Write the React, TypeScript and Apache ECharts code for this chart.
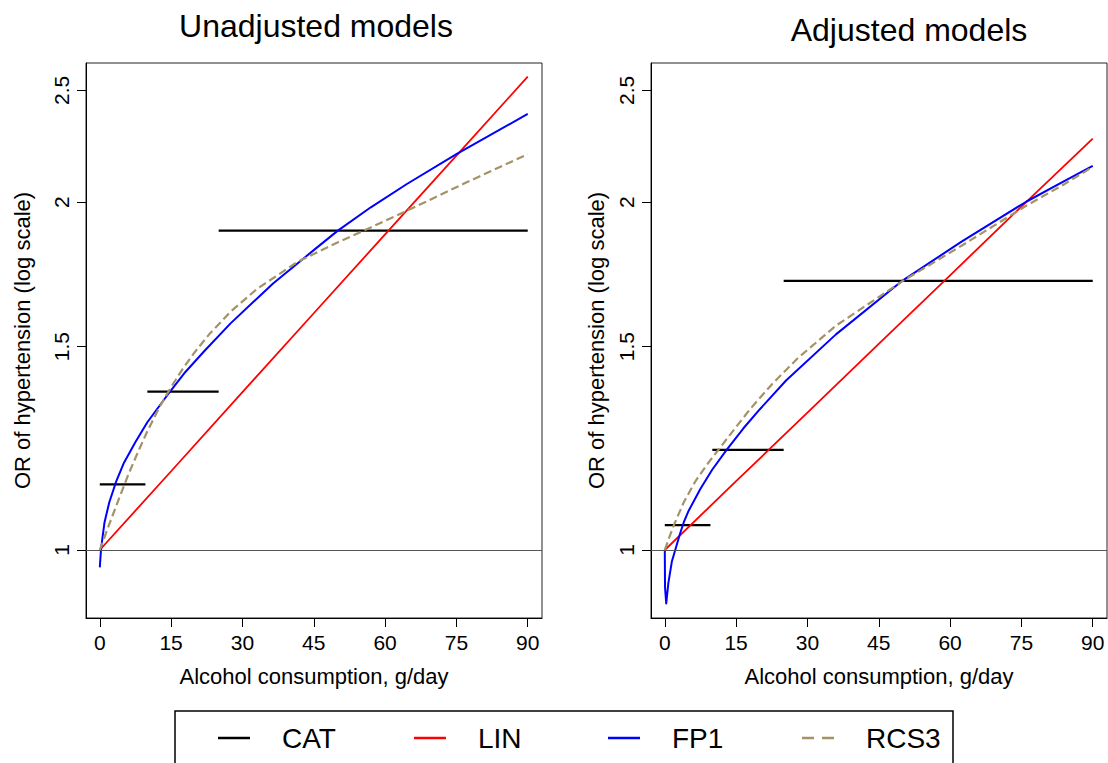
import React, { useEffect, useRef } from "react";
import * as echarts from "echarts";

// ---------- data (odds ratios) ----------
const xTicks = [0, 15, 30, 45, 60, 75, 90];
const yTicks = [1, 1.5, 2, 2.5];

// Categorical model: segment start, end and level
const catStart = [0, 10, 25];
const catEnd = [9.6, 25, 90];
const catUnadj = [1.14, 1.371, 1.89];
const catAdj = [1.051, 1.221, 1.71];

// Linear model
const linX = [0, 15, 30, 45, 60, 75, 90];
const linUnadj = [1, 1.17, 1.37, 1.603, 1.876, 2.195, 2.569];
const linAdj = [1, 1.147, 1.315, 1.508, 1.729, 1.983, 2.27];

// FP1 model
const fp1UnadjX = [0, 0.25, 0.5, 1, 2, 3.5, 5, 7.5, 10, 14, 18, 22, 27.5, 36.5, 45, 50, 57, 64.5, 75, 90];
const fp1Unadj = [0.966, 1.0, 1.02, 1.057, 1.1, 1.148, 1.188, 1.24, 1.29, 1.358, 1.426, 1.487, 1.571, 1.702, 1.818, 1.889, 1.98, 2.073, 2.201, 2.385];
const fp1AdjX = [0, 0.05, 0.3, 0.75, 1.5, 2.35, 3.2, 4, 5, 7.5, 10, 13, 16.5, 20, 25.5, 36, 50, 62.5, 76, 84, 90];
const fp1Adj = [1.0, 0.928, 0.899, 0.936, 0.978, 1.005, 1.033, 1.057, 1.081, 1.13, 1.174, 1.221, 1.274, 1.324, 1.402, 1.537, 1.711, 1.85, 2.002, 2.086, 2.15];

// RCS3 model
const rcsUnadjX = [0, 2, 4, 6, 8, 10, 12.5, 15, 17.5, 20, 23, 27.5, 33, 41.5, 50, 57, 65, 76.5, 90];
const rcsUnadj = [1.0, 1.053, 1.107, 1.162, 1.215, 1.267, 1.328, 1.384, 1.436, 1.484, 1.537, 1.608, 1.682, 1.775, 1.846, 1.902, 1.97, 2.075, 2.201];
const rcsAdjX = [0, 1, 2, 4, 6.5, 9.5, 12, 15, 18, 22.5, 28, 36, 50, 62.5, 76, 84, 90];
const rcsAdj = [1.0, 1.027, 1.053, 1.1, 1.148, 1.195, 1.232, 1.278, 1.325, 1.391, 1.466, 1.564, 1.709, 1.835, 1.986, 2.073, 2.146];

const titles = ["Unadjusted models", "Adjusted models"];
const legendNames = ["CAT", "LIN", "FP1", "RCS3"];
const colors: Record<string, string> = {
  CAT: "#000000",
  LIN: "#ff0000",
  FP1: "#0000ff",
  RCS3: "#a39366",
};

const FONT = "'Liberation Sans', Arial, Helvetica, sans-serif";

const toPts = (xs: number[], ys: number[]) => xs.map((x, i) => [x, Math.log(ys[i])]);
const catPts = (levels: number[]) => {
  const out: any[] = [];
  levels.forEach((v, i) => {
    out.push([catStart[i], Math.log(v)]);
    out.push([catEnd[i], Math.log(v)]);
    if (i < levels.length - 1) out.push([catEnd[i], "-"]);
  });
  return out;
};

export default function App() {
  const ref = useRef<HTMLDivElement>(null);
  useEffect(() => {
    if (!ref.current) return;
    const chart = echarts.init(ref.current, undefined, { renderer: "svg" });
    const yMin = -0.1355;
    const yMax = 0.9707;
    const yVals = yTicks.map((v) => Math.log(v));
    const grids = [
      { left: 86, top: 63, width: 456, height: 555 },
      { left: 651, top: 63, width: 456, height: 555 },
    ];
    const yNameGaps = [53, 44];

    const xAxes = grids.map((_, gi) => ({
      type: "value",
      gridIndex: gi,
      min: -2.9,
      max: 93,
      axisLine: { show: true, onZero: false, lineStyle: { color: "#000", width: 1 } },
      axisTick: { show: true, length: 9, customValues: xTicks, lineStyle: { color: "#000", width: 1 } },
      axisLabel: { customValues: xTicks, margin: 14, fontSize: 21, color: "#000", fontFamily: FONT },
      splitLine: { show: false },
      name: "Alcohol consumption, g/day",
      nameLocation: "middle",
      nameGap: 47,
      nameTextStyle: { fontSize: 22, color: "#000", fontFamily: FONT },
    }));
    const yAxes = grids.map((_, gi) => ({
      type: "value",
      gridIndex: gi,
      min: yMin,
      max: yMax,
      axisLine: { show: true, onZero: false, lineStyle: { color: "#000", width: 1 } },
      axisTick: { show: true, length: 9, customValues: yVals, lineStyle: { color: "#000", width: 1 } },
      axisLabel: {
        customValues: yVals,
        rotate: 90,
        margin: 14,
        fontSize: 21,
        color: "#000",
        fontFamily: FONT,
        formatter: (v: number) => String(Math.round(Math.exp(v) * 10) / 10),
      },
      splitLine: { show: false },
      name: "OR of hypertension (log scale)",
      nameLocation: "middle",
      nameGap: yNameGaps[gi],
      nameTextStyle: { fontSize: 22, color: "#000", fontFamily: FONT },
    }));

    const panels = [
      { cat: catUnadj, lin: linUnadj, fpX: fp1UnadjX, fp: fp1Unadj, rcX: rcsUnadjX, rc: rcsUnadj },
      { cat: catAdj, lin: linAdj, fpX: fp1AdjX, fp: fp1Adj, rcX: rcsAdjX, rc: rcsAdj },
    ];
    const series: any[] = [];
    panels.forEach((p, gi) => {
      const common = { type: "line", xAxisIndex: gi, yAxisIndex: gi, symbol: "none", showSymbol: false, silent: true, smooth: false };
      series.push({
        ...common,
        name: "CAT",
        data: catPts(p.cat),
        connectNulls: false,
        lineStyle: { color: colors.CAT, width: 2.2 },
        itemStyle: { color: colors.CAT },
        markLine: {
          silent: true,
          symbol: ["none", "none"],
          label: { show: false },
          lineStyle: { color: "#555", width: 1, type: "solid" },
          data: [{ yAxis: 0 }],
        },
      });
      series.push({
        ...common,
        name: "LIN",
        data: toPts(linX, p.lin),
        lineStyle: { color: colors.LIN, width: 1.8 },
        itemStyle: { color: colors.LIN },
      });
      series.push({
        ...common,
        name: "FP1",
        data: toPts(p.fpX, p.fp),
        lineStyle: { color: colors.FP1, width: 2, join: "round" },
        itemStyle: { color: colors.FP1 },
      });
      series.push({
        ...common,
        name: "RCS3",
        data: toPts(p.rcX, p.rc),
        lineStyle: { color: colors.RCS3, width: 2.2, type: [8, 4], join: "round" },
        itemStyle: { color: colors.RCS3 },
      });
    });

    const legendLefts = [218, 414, 608, 802];
    const legendIcons = ["rect", "rect", "rect", "path://M0,0H12V1H0Z M20,0H32V1H20Z"];
    const legends = legendNames.map((n, i) => ({
      data: [n],
      left: legendLefts[i],
      top: 724,
      padding: 0,
      icon: legendIcons[i],
      symbolKeepAspect: false,
      itemWidth: 32,
      itemHeight: 2.5,
      selectedMode: false,
      textStyle: { fontSize: 28, color: "#000", fontFamily: FONT, padding: [0, 0, 0, 27] },
    }));

    chart.setOption({
      animation: false,
      backgroundColor: "#fff",
      grid: grids.map((g) => ({ ...g, show: true, borderColor: "#222", borderWidth: 1, backgroundColor: "transparent" })),
      xAxis: xAxes,
      yAxis: yAxes,
      series,
      legend: legends,
      graphic: [
        {
          type: "text",
          x: 316,
          y: 26,
          style: { text: titles[0], fontSize: 32, fill: "#000", fontFamily: FONT, textAlign: "center", textVerticalAlign: "middle" },
        },
        {
          type: "text",
          x: 909,
          y: 30,
          style: { text: titles[1], fontSize: 32, fill: "#000", fontFamily: FONT, textAlign: "center", textVerticalAlign: "middle" },
        },
        {
          type: "rect",
          shape: { x: 175, y: 711, width: 778, height: 80 },
          style: { fill: "none", stroke: "#000", lineWidth: 1.5 },
          silent: true,
        },
      ],
    });
    return () => chart.dispose();
  }, []);
  return <div ref={ref} style={{ position: "fixed", left: 0, top: 0, width: 1108, height: 763 }} />;
}
